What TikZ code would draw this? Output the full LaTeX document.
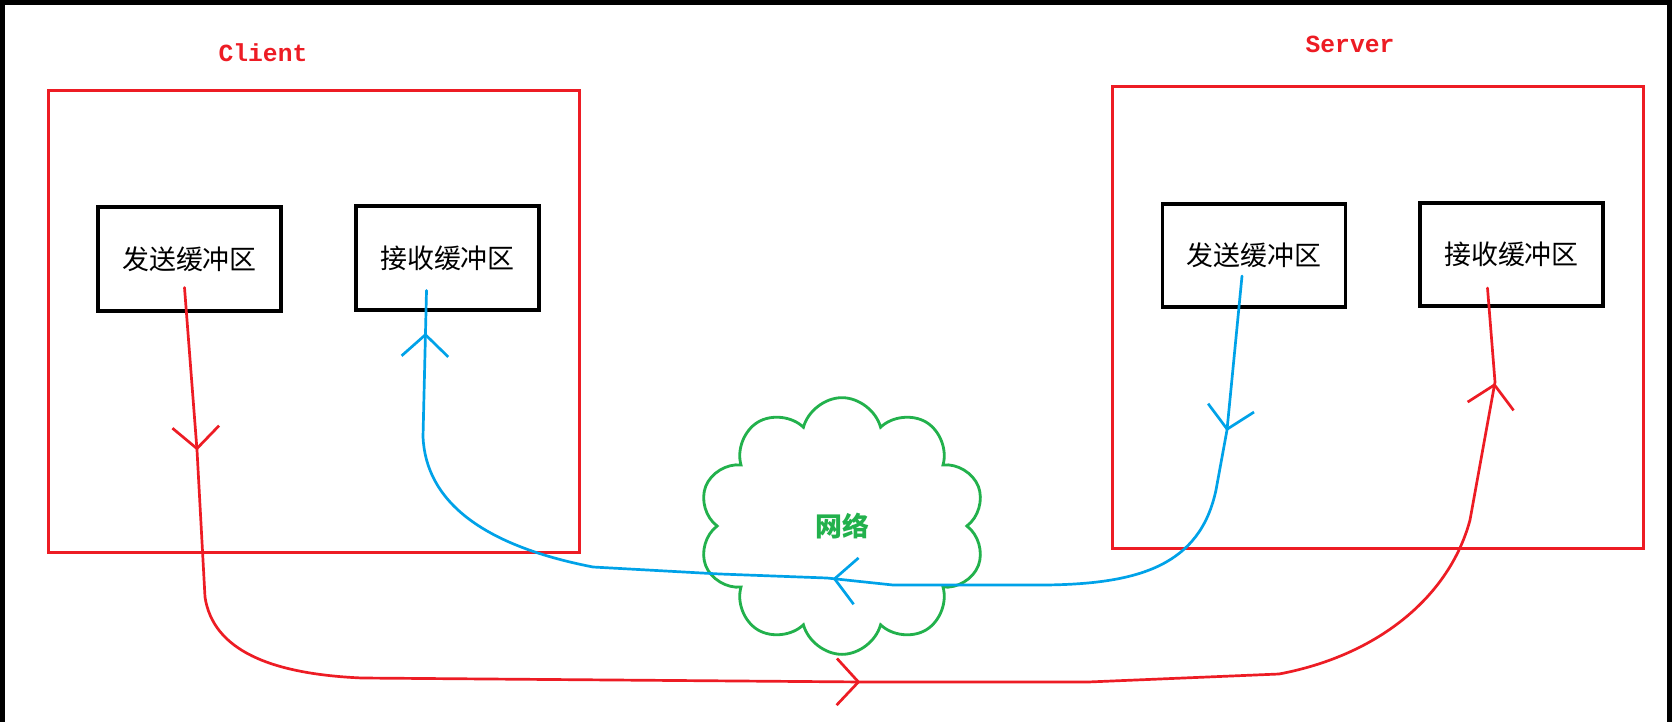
\documentclass[tikz,border=0pt]{standalone}
\usepackage{fontspec}
\newfontfamily\cjk{Noto Sans CJK SC}
\newfontfamily\codefont{Liberation Mono}
\usepackage{tikz}
\usetikzlibrary{shapes.symbols, arrows.meta, decorations.markings, calc}

\definecolor{paintred}{RGB}{237,28,36}
\definecolor{paintblue}{RGB}{0,162,232}
\definecolor{paintgreen}{RGB}{34,177,76}

\newcommand{\flowtip}{\arrow{Straight Barb[length=0.65cm,width=1.4cm]}}

\begin{document}
\begin{tikzpicture}[
        x=0.03cm, y=-0.03cm,
        frame/.style={draw=paintred, line width=2.6pt, minimum width=15.93cm, minimum height=13.85cm, inner sep=0pt},
        buf/.style={draw=black, line width=3.2pt, minimum width=5.49cm, minimum height=3.1cm, inner sep=0pt, font=\cjk\fontsize{23}{26}\selectfont},
        tag/.style={text=paintred, font=\codefont\bfseries\fontsize{21}{24}\selectfont},
        net/.style={cloud, cloud puffs=10, aspect=1.1, draw=paintgreen, line width=2.4pt, minimum width=8.6cm, minimum height=7.7cm, text=paintgreen, font=\cjk\bfseries\fontsize{23}{26}\selectfont},
        flow/.style={line width=2.3pt, line cap=round, line join=round, postaction={decorate}}
    ]
        \useasboundingbox (0,0) rectangle (1672,722);
        \fill[black] (0,0) rectangle (1672,722);
        \fill[white] (5,5) rectangle (1667,722);

        % hosts
        \node[frame] (client) at (314,321.5) {};
        \node[frame] (server) at (1378,317.5) {};
        \node[tag] (clientlbl) at (263,53) {Client};
        \node[tag] (serverlbl) at (1350,44) {Server};

        % buffers
        \node[buf] (cs) at (189.5,259) {发送缓冲区};
        \node[buf] (cr) at (447.5,258) {接收缓冲区};
        \node[buf] (ss) at (1254,255.5) {发送缓冲区};
        \node[buf] (sr) at (1511.5,254.5) {接收缓冲区};

        \node[net] (net) at (842,526) {网络};

        \coordinate (csout) at ($(cs.south)+(-5,-25)$);
        \coordinate (srin) at ($(sr.south)+(-24,-20)$);
        \coordinate (ssout) at ($(ss.south)+(-12,-33)$);
        \coordinate (crin) at ($(cr.south)+(-21,-21)$);

        % client -> server
        \draw[flow, paintred, decoration={markings,
                mark=at position 4.9cm with {\flowtip},
                mark=at position 30.0cm with {\flowtip},
                mark=at position -2.86cm with {\flowtip}}]
            (csout) -- (197,450) -- (205,597)
            .. controls (213,650) and (270,674) .. (362,678)
            -- (864,682) -- (1088,682) -- (1279,674)
            .. controls (1380,655) and (1450,595) .. (1470,520)
            -- (1495,382) -- (srin);

        % server -> client
        \draw[flow, paintblue, decoration={markings,
                mark=at position 4.67cm with {\flowtip},
                mark=at position 19.3cm with {\flowtip},
                mark=at position -1.27cm with {\flowtip}}]
            (ssout) -- (1227,430) -- (1216,490)
            .. controls (1200,565) and (1140,584) .. (1045,585)
            -- (893,585) -- (827,578) -- (720,574) -- (593,567)
            .. controls (480,545) and (426,500) .. (423,437)
            -- (crin);
    \end{tikzpicture}
\end{document}
